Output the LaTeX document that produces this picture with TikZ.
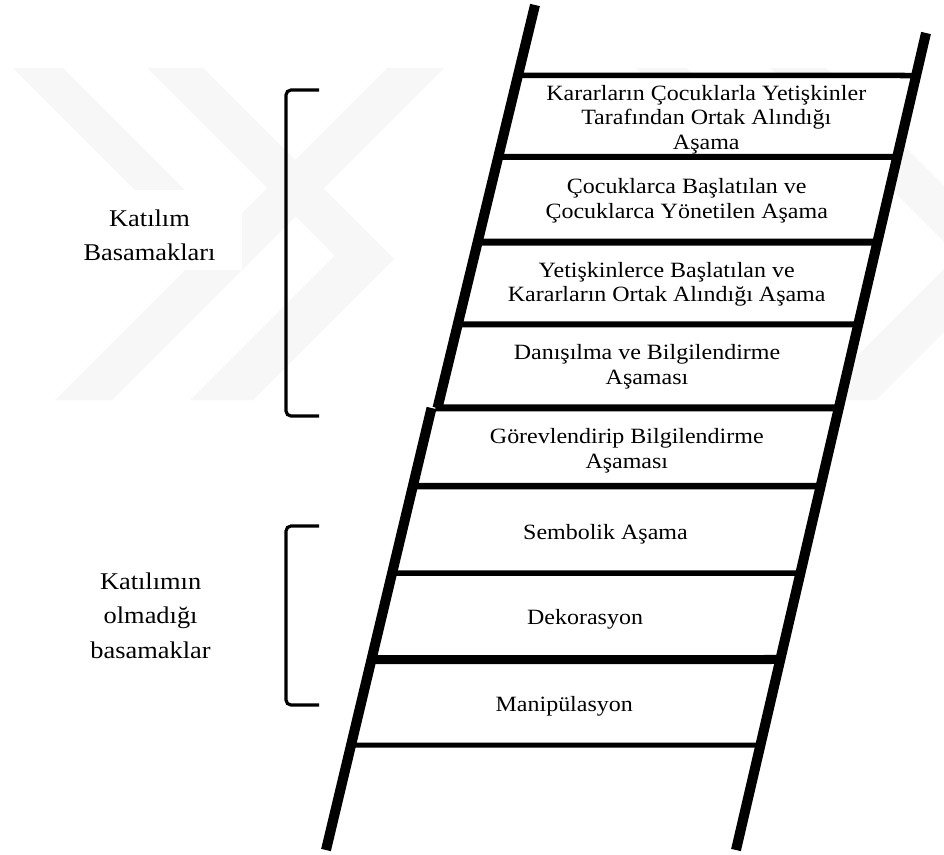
\documentclass[tikz,border=0pt]{standalone}
\usepackage{fontspec}
\setmainfont{Liberation Serif}[FakeStretch=1.1]
\usetikzlibrary{calc}
\newcommand\rungfont{\fontsize{21.8}{24.7}\selectfont}
\newcommand\sidefont{\fontsize{24}{34.7}\selectfont}

\begin{document}
\begin{tikzpicture}[x=1pt,y=-1pt,
  rail/.style={line width=10pt, line cap=butt},
  stagetext/.style={align=center, font=\rungfont, inner sep=0pt},
  sidelabel/.style={align=center, font=\sidefont, inner sep=0pt},
  bracketline/.style={line width=3.2pt, rounded corners=5pt},
  wm/.style={fill=gray!6, draw=none}]

\useasboundingbox (0,0) rectangle (944,854);
\fill[white] (0,0) rectangle (944,854);

% end points of the two rails
\coordinate (Ltop) at (535,5);
\coordinate (Lbot) at (326,850);
\coordinate (Rtop) at (926,33);
\coordinate (Rbot) at (736,850);
% the left rail is made of two pieces that meet with a small offset
\coordinate (LmidA) at (437.5,408);
\coordinate (LmidB) at (431.5,408);

% faint background emblem
\begin{scope}
  \clip (0,0) rectangle (944,854);
  \fill[wm] (13,68) -- (63,68) -- (225,230) -- (200,255) -- cycle;
  \fill[wm] (387,68) -- (444,68) -- (112,400) -- (55,400) -- cycle;
  \fill[wm] (147,68) -- (203,68) -- (394,259) -- (253,400) -- (190,400) -- (334.5,255.5) -- cycle;
  \fill[wm] (636,68) -- (686,68) -- (848,230) -- (823,255) -- cycle;
  \fill[wm] (770,68) -- (826,68) -- (1017,259) -- (876,400) -- (813,400) -- (957.5,255.5) -- cycle;
\end{scope}

% white ground behind the upper side label
\fill[white] (57,190) rectangle (242,270);

% rung end points on both rails
\foreach \i/\y in {1/75.5, 2/157, 3/242, 4/324.5, 5/408, 6/486, 7/573, 8/659.5, 9/745} {
  \coordinate (rl\i) at ($(Ltop)!{(\y-5)/845}!(Lbot)$);
  \coordinate (rr\i) at ($(Rtop)!{(\y-33)/817}!(Rbot)$);
}
% anchor points for the stage texts
\foreach \i/\y in {1/119.6, 2/201, 3/284.4, 4/366.6, 5/450.8, 6/539.7, 7/624.7, 8/711.5} {
  \coordinate (ml\i) at ($(Ltop)!{(\y-5)/845}!(Lbot)$);
  \coordinate (mr\i) at ($(Rtop)!{(\y-33)/817}!(Rbot)$);
}

% white steps of the ladder
\fill[white] (rl1) -- (rr1) -- (rr9) -- (rl9) -- cycle;

% rungs
\foreach \i/\w in {1/5.5, 2/6, 3/7, 4/6, 5/7, 6/6.5, 7/5.5, 8/9, 9/5} {
  \draw[line width=\w pt] (rl\i) -- (rr\i);
}

% rails
\draw[rail] (Ltop) -- (LmidA);
\draw[rail] (LmidB) -- (Lbot);
\draw[rail] (Rtop) -- (Rbot);

% stage texts
\node[stagetext] (s1) at ($(ml1)!0.5!(mr1)$) {Kararların Çocuklarla Yetişkinler\\Tarafından Ortak Alındığı\\Aşama};
\node[stagetext] (s2) at ($(ml2)!0.5!(mr2)$) {Çocuklarca Başlatılan ve\\Çocuklarca Yönetilen Aşama};
\node[stagetext] (s3) at ($(ml3)!0.5!(mr3)$) {Yetişkinlerce Başlatılan ve\\Kararların Ortak Alındığı Aşama};
\node[stagetext] (s4) at ($(ml4)!0.5!(mr4)$) {Danışılma ve Bilgilendirme\\Aşaması};
\node[stagetext] (s5) at ($(ml5)!0.5!(mr5)$) {Görevlendirip Bilgilendirme\\Aşaması};
\node[stagetext, anchor=base] (s6) at ($(ml6)!0.5!(mr6)$) {Sembolik Aşama};
\node[stagetext, anchor=base] (s7) at ($(ml7)!0.5!(mr7)$) {Dekorasyon};
\node[stagetext, anchor=base] (s8) at ($(ml8)!0.5!(mr8)$) {Manipülasyon};

% brackets
\draw[bracketline] (319,90) -- (286,90) -- (286,416) -- (319,416);
\draw[bracketline] (319,526) -- (286,526) -- (286,705) -- (319,705);

% side labels
\node[sidelabel] (upper) at (149.5,235.2) {Katılım\\Basamakları};
\node[sidelabel] (lower) at (150.6,615.6) {Katılımın\\olmadığı\\basamaklar};

\end{tikzpicture}
\end{document}
